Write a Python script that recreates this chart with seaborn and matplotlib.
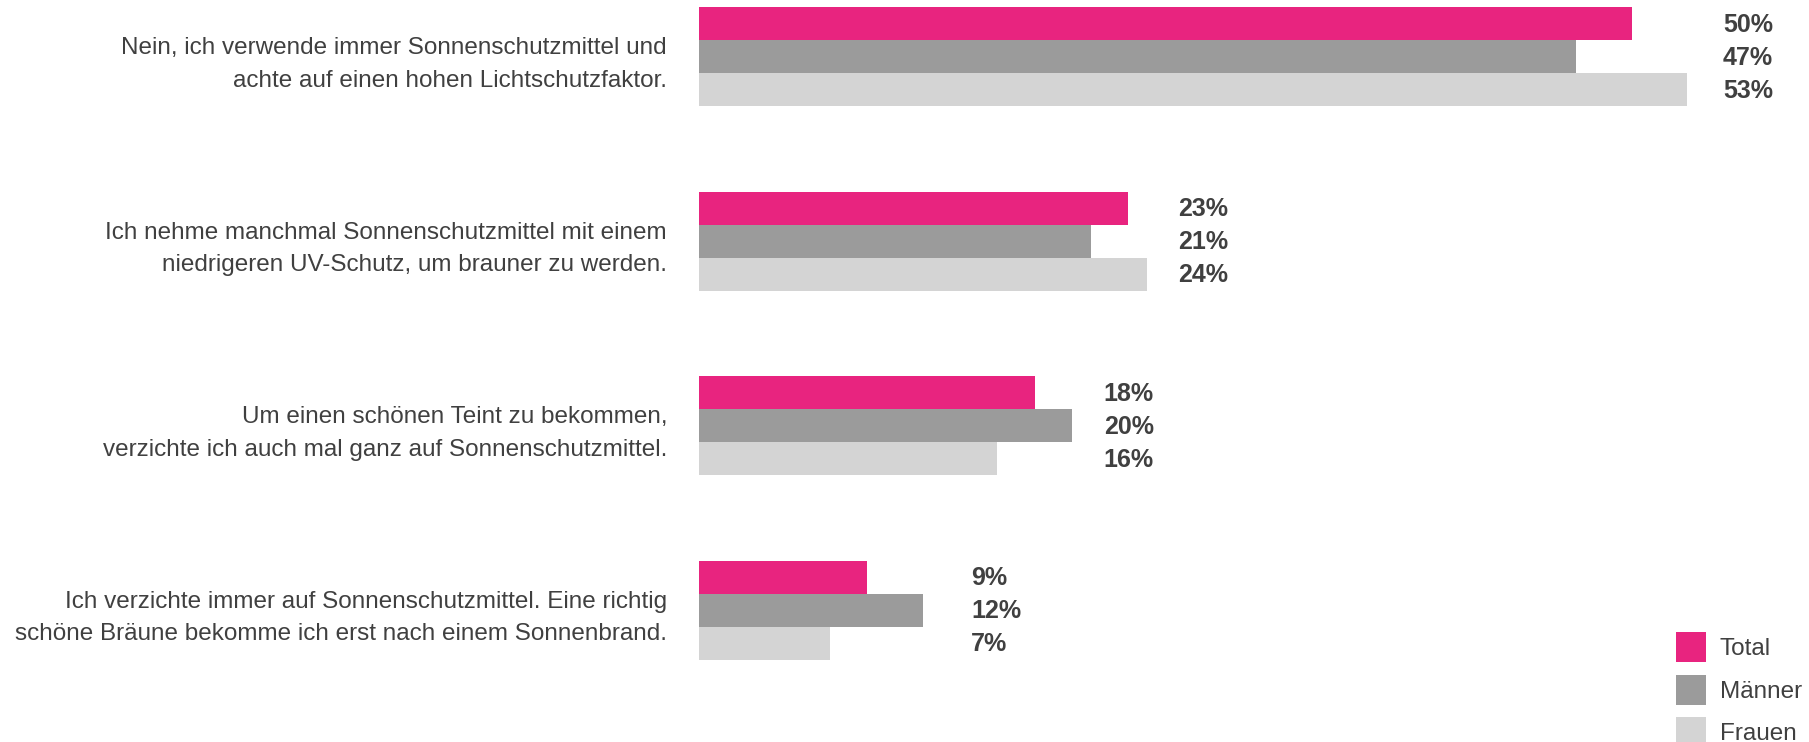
import matplotlib
matplotlib.use("Agg")
import matplotlib.pyplot as plt
import seaborn as sns
import pandas as pd

categories = [
    "Nein, ich verwende immer Sonnenschutzmittel und\nachte auf einen hohen Lichtschutzfaktor.",
    "Ich nehme manchmal Sonnenschutzmittel mit einem\nniedrigeren UV-Schutz, um brauner zu werden.",
    "Um einen schönen Teint zu bekommen,\nverzichte ich auch mal ganz auf Sonnenschutzmittel.",
    "Ich verzichte immer auf Sonnenschutzmittel. Eine richtig\nschöne Bräune bekomme ich erst nach einem Sonnenbrand.",
]
series = ["Total", "Männer", "Frauen"]
total = [50, 23, 18, 9]
maenner = [47, 21, 20, 12]
frauen = [53, 24, 16, 7]
colors = ["#E8247F", "#9B9B9B", "#D4D4D4"]

rows = []
for name, vals in zip(series, [total, maenner, frauen]):
    for c, v in zip(categories, vals):
        rows.append({"cat": c, "series": name, "value": v})
df = pd.DataFrame(rows)

sns.set_theme(style="white")
plt.rcParams["font.family"] = ["Liberation Sans", "DejaVu Sans"]

W, H = 1809, 742
fig = plt.figure(figsize=(W / 100, H / 100), dpi=100)
x0 = 699
ax = fig.add_axes([x0 / W, 0, (W - x0) / W, 1])

sns.barplot(data=df, y="cat", x="value", hue="series", order=categories,
            hue_order=series, palette=colors, orient="h", width=0.5375,
            gap=0, linewidth=0, saturation=1, ax=ax, legend=True)

ax.set_xlim(0, (W - x0) / 18.65)
ax.set_ylim(3.713, -0.307)
ax.set_xlabel("")
ax.set_ylabel("")
ax.set_xticks([])
for s in ax.spines.values():
    s.set_visible(False)
ax.tick_params(axis="y", length=0, pad=23, labelsize=17.5, labelcolor="#404040")
for lab in ax.get_yticklabels():
    lab.set_linespacing(1.62)

# value labels: left-aligned after the longest bar of each group
gmax = [max(t, m, f) for t, m, f in zip(total, maenner, frauen)]
offs = [1.9, 1.7, 1.7, 2.6]
for cont, vals in zip(ax.containers, [total, maenner, frauen]):
    for i, (bar, v) in enumerate(zip(cont, vals)):
        yc = bar.get_y() + bar.get_height() / 2
        ax.text(gmax[i] + offs[i], yc + 0.005, f"{v}%", ha="left", va="center",
                fontsize=18, fontweight="bold", color="#404040")

handles, labels = ax.get_legend_handles_labels()
ax.legend(handles, labels, loc="upper left",
          bbox_to_anchor=(1676 / W, (H - 632) / H), bbox_transform=fig.transFigure,
          frameon=False, borderpad=0, borderaxespad=0,
          handlelength=1.25, handleheight=1.53, handletextpad=0.55,
          labelspacing=0.51, fontsize=17.5, labelcolor="#404040")

fig.savefig("out.png", dpi=100)
